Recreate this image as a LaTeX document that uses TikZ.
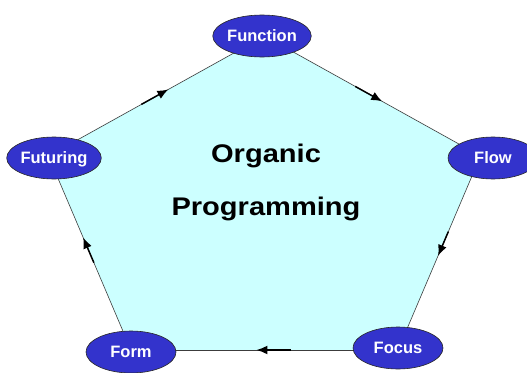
\documentclass[tikz,border=0pt]{standalone}
\usepackage{fontspec}
\setmainfont{Liberation Sans}
\usetikzlibrary{shapes.geometric,arrows.meta,calc}
\definecolor{hubblue}{RGB}{51,51,204}
\definecolor{padcyan}{RGB}{204,255,255}
\definecolor{edgegray}{RGB}{60,60,60}
\begin{document}
\begin{tikzpicture}[x=1pt,y=-1pt,
  hub/.style={ellipse,draw=black!85,line width=0.6pt,fill=hubblue,
    minimum width=90pt,minimum height=42pt,inner sep=0pt,
    text=white,font=\fontsize{16.5}{16.5}\selectfont\bfseries,
    text height=11.8pt,text depth=0pt},
  side/.style={draw=edgegray,line width=0.6pt},
  flowarrow/.style={draw=black,line width=1.5pt,
    -{Latex[length=11pt,width=9pt]},shorten >=0pt},
  title/.style={font=\fontsize{25.5}{30}\selectfont\bfseries,anchor=base}]
  \useasboundingbox (0,0) rectangle (527,372);
  % pentagon corners
  \coordinate (pTop) at (264.5,36);
  \coordinate (pRight) at (480.5,156);
  \coordinate (pBR) at (398,350);
  \coordinate (pBL) at (131,350);
  \coordinate (pLeft) at (48.5,156);
  % filled pentagon with its sides
  \path[fill=padcyan] (pTop) -- (pRight) -- (pBR) -- (pBL) -- (pLeft) -- cycle;
  \draw[side] (pTop) -- (pRight);
  \draw[side] (pRight) -- (pBR);
  \draw[side] (pBR) -- (pBL);
  \draw[side] (pBL) -- (pLeft);
  \draw[side] (pLeft) -- (pTop);
  % direction marks round the cycle
  \draw[flowarrow] ($(pLeft)!0.43!(pTop)$) -- ($(pLeft)!0.555!(pTop)$);
  \draw[flowarrow] ($(pTop)!0.42!(pRight)$) -- ($(pTop)!0.545!(pRight)$);
  \draw[flowarrow] ($(pRight)!0.39!(pBR)$) -- ($(pRight)!0.515!(pBR)$);
  \draw[flowarrow] ($(pBR)!0.40!(pBL)$) -- ($(pBR)!0.53!(pBL)$);
  \draw[flowarrow] ($(pBL)!0.45!(pLeft)$) -- ($(pBL)!0.58!(pLeft)$);
  % stages
  \node[hub] (function) at (262,36) {Function};
  \node[hub] (flow) at (493,158) {Flow};
  \node[hub] (focus) at (398,348) {Focus};
  \node[hub] (form) at (131,352) {Form};
  \node[hub] (futuring) at (54,158) {Futuring};
  % centre title
  \node[title] (organic) at (266,162) {\scalebox{1.14}[1]{Organic}};
  \node[title] (programming) at (266,215) {\scalebox{1.14}[1]{Programming}};
\end{tikzpicture}
\end{document}
